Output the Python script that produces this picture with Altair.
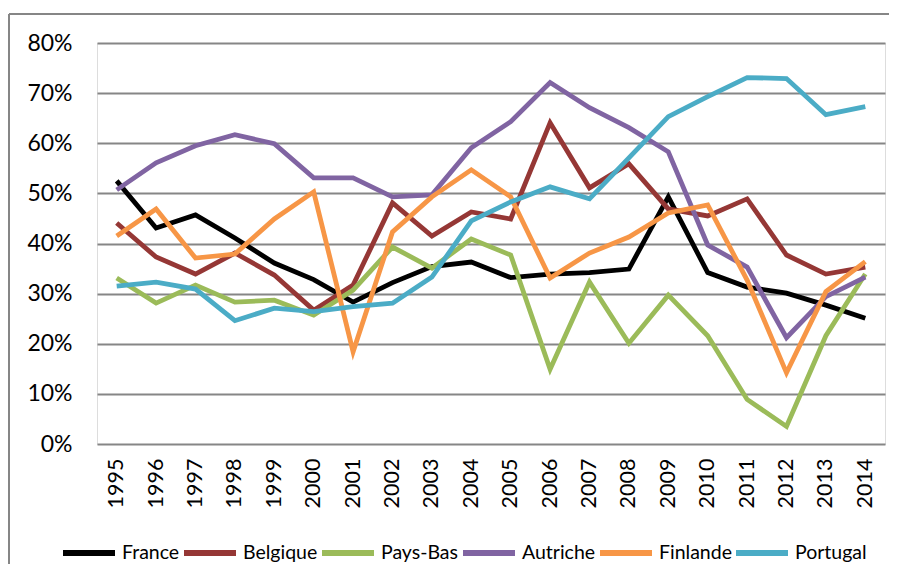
import altair as alt
import pandas as pd

years = [str(y) for y in range(1995, 2015)]
series_names = ["France", "Belgique", "Pays-Bas", "Autriche", "Finlande", "Portugal"]
colors = ["#000000", "#953735", "#9BBB59", "#8064A2", "#F79646", "#4BACC6"]

france = [0.525, 0.431, 0.457, 0.411, 0.361, 0.328, 0.283, 0.322, 0.354, 0.363,
          0.332, 0.339, 0.342, 0.349, 0.493, 0.342, 0.313, 0.301, 0.277, 0.251]
belgique = [0.441, 0.373, 0.339, 0.381, 0.337, 0.267, 0.317, 0.481, 0.415, 0.463,
            0.449, 0.641, 0.511, 0.559, 0.469, 0.455, 0.489, 0.377, 0.339, 0.353]
pays_bas = [0.331, 0.281, 0.317, 0.283, 0.287, 0.257, 0.307, 0.393, 0.351, 0.409,
            0.377, 0.149, 0.323, 0.201, 0.297, 0.216, 0.089, 0.035, 0.216, 0.339]
autriche = [0.507, 0.561, 0.595, 0.617, 0.599, 0.531, 0.531, 0.493, 0.497, 0.591,
            0.643, 0.721, 0.671, 0.631, 0.583, 0.397, 0.353, 0.212, 0.294, 0.333]
finlande = [0.415, 0.469, 0.371, 0.379, 0.449, 0.503, 0.184, 0.423, 0.493, 0.547,
            0.493, 0.331, 0.381, 0.413, 0.461, 0.477, 0.327, 0.142, 0.304, 0.364]
portugal = [0.315, 0.323, 0.309, 0.246, 0.271, 0.264, 0.274, 0.281, 0.333, 0.445,
            0.483, 0.513, 0.489, 0.571, 0.653, 0.693, 0.731, 0.729, 0.657, 0.673]

all_series = [france, belgique, pays_bas, autriche, finlande, portugal]

rows = []
for i, (name, vals) in enumerate(zip(series_names, all_series)):
    for y, v in zip(years, vals):
        rows.append({"Année": y, "Pays": name, "Valeur": v, "ordre": i})
df = pd.DataFrame(rows)

FONT = "Lato"
GRID = "#868686"

lines = alt.Chart(df).mark_line(strokeWidth=4.8, strokeJoin="miter").encode(
    x=alt.X("Année:O", sort=years,
            scale=alt.Scale(type="point", padding=0.5),
            axis=alt.Axis(title=None, labelAngle=-90, labelFontSize=21.5, labelFont=FONT,
                          labelColor="#000000", domain=False, ticks=False,
                          labelPadding=14, grid=False)),
    y=alt.Y("Valeur:Q",
            scale=alt.Scale(domain=[0, 0.8], nice=False),
            axis=alt.Axis(title=None, format=".0%", values=[0, 0.1, 0.2, 0.3, 0.4, 0.5, 0.6, 0.7, 0.8],
                          labelFontSize=23, labelFont=FONT, labelColor="#000000",
                          domain=False, ticks=False, labelPadding=25,
                          grid=True, gridColor=GRID, gridWidth=2)),
    color=alt.Color("Pays:N", sort=series_names,
                    scale=alt.Scale(domain=series_names, range=colors),
                    legend=alt.Legend(title=None, orient="none", direction="horizontal",
                                      legendX=-37, legendY=481,
                                      symbolType="stroke", symbolSize=2704,
                                      symbolStrokeWidth=6, labelFontSize=19.5,
                                      labelFont=FONT, labelColor="#000000",
                                      labelOffset=4, columnPadding=-8, columns=6,
                                      gridAlign="each")),
    detail="Pays:N",
    order=alt.Order("ordre:Q"),
)

frame_data = alt.Data(values=[{"k": 1}])
left_edge = alt.Chart(frame_data).mark_rule(color=GRID, strokeWidth=2).encode(
    x=alt.value(-88), y=alt.value(-29), y2=alt.value(620))
top_edge = alt.Chart(frame_data).mark_rule(color=GRID, strokeWidth=2).encode(
    x=alt.value(-88), x2=alt.value(830), y=alt.value(-29))

chart = alt.layer(lines, left_edge, top_edge).properties(
    width=788, height=401,
    padding={"left": 89, "top": 35, "right": 4, "bottom": 120},
    autosize=alt.AutoSizeParams(type="none"),
).configure_view(stroke=None).configure(background="white")

chart.save("out.html", embed_options={"renderer": "svg", "actions": False})
